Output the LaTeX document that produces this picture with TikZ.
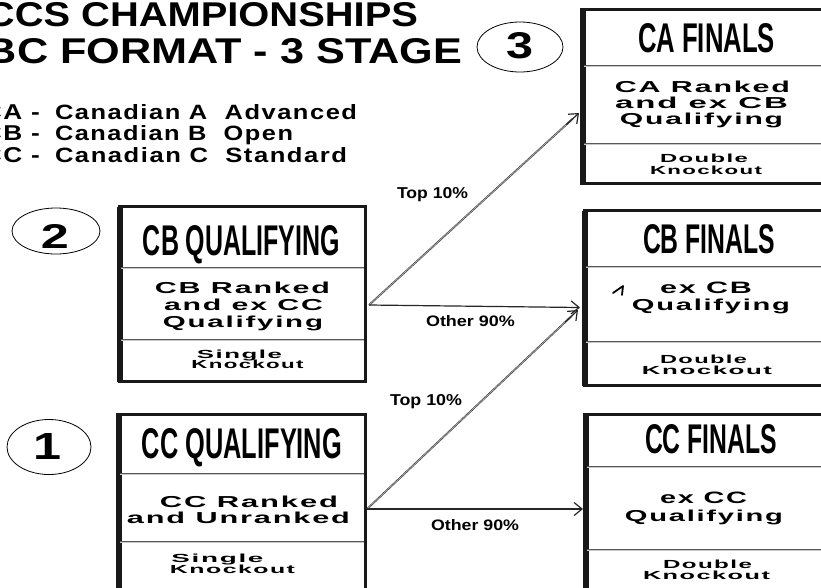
\documentclass[tikz,border=0pt]{standalone}
\usepackage{fontspec}
\setmainfont{Liberation Sans}
\newfontfamily\spc[LetterSpace=6]{Liberation Sans}
\usetikzlibrary{arrows.meta,shapes.geometric,calc}
\newcommand\rsz[3]{\resizebox{#1pt}{#2pt}{#3}}
\begin{document}
\begin{tikzpicture}[x=1pt,y=-1pt,
  box/.style={draw=black!90, line width=3.2pt, inner sep=0pt, outer sep=0pt},
  lbar/.style={draw=black!90, line width=6pt},
  divider/.style={draw=black!65, line width=0.7pt, double=black!22, double distance=0.8pt},
  t/.style={inner sep=0pt, outer sep=0pt, anchor=base},
  link/.style={draw=black!85, line width=1.1pt},
  dlink/.style={draw=black!75, line width=0.6pt, double=black!30, double distance=0.6pt},
  tipped/.style={draw=black!85, line width=1.2pt, -{Straight Barb[length=8pt,width=13pt]}},
  stage/.style={draw, ellipse, line width=0.8pt, inner sep=0pt},
]
\useasboundingbox (0,0) rectangle (821,587);
\begin{scope}
\clip (0,0) rectangle (821,587);
\fill[white] (0,0) rectangle (821,587);

% heading
\node[t, anchor=base east] (h1) at (418,26) {\rsz{432}{24}{\bfseries CCS CHAMPIONSHIPS}};
\node[t, anchor=base east] (h2) at (462,63) {\rsz{476}{25}{\bfseries BC FORMAT - 3 STAGE}};

% legend
\node[t, anchor=base east] (l1a) at (40,119) {\rsz{57}{15}{\spc\bfseries CA -}};
\node[t, anchor=base west] (l1b) at (55,119) {\rsz{302}{15}{\spc\bfseries Canadian A\ \ Advanced}};
\node[t, anchor=base east] (l2a) at (40,140.5) {\rsz{57}{15}{\spc\bfseries CB -}};
\node[t, anchor=base west] (l2b) at (55,140.5) {\rsz{238}{15}{\spc\bfseries Canadian B\ \ Open}};
\node[t, anchor=base east] (l3a) at (40,162) {\rsz{57}{15}{\spc\bfseries CC -}};
\node[t, anchor=base west] (l3b) at (55,162) {\rsz{292}{15}{\spc\bfseries Canadian C\ \ Standard}};

% stage ellipses
\node[stage, minimum width=86pt, minimum height=50pt] (e3) at (520,47) {};
\node[stage, minimum width=88pt, minimum height=46pt] (e2) at (56,231) {};
\node[stage, minimum width=84pt, minimum height=55pt] (e1) at (49,447) {};
\node[inner sep=0pt] (d3) at (519.5,46) {\rsz{27}{26}{\bfseries 3}};
\node[inner sep=0pt] (d2) at (55,236) {\rsz{28}{24}{\bfseries 2}};
\node[inner sep=0pt] (d1) at (47.5,446) {\rsz{28}{26}{\bfseries 1}};

% boxes
\node[box, minimum width=246pt, minimum height=175pt] (cbq) at (242.5,294) {};
\draw[lbar] ([xshift=0.5pt]cbq.north west) -- ([xshift=0.5pt]cbq.south west);
\node[box, minimum width=247.5pt, minimum height=185.5pt] (ccq) at (241.75,507.25) {};
\draw[lbar] ([xshift=0.5pt]ccq.north west) -- ([xshift=0.5pt]ccq.south west);
\node[box, minimum width=253pt, minimum height=174pt] (caf) at (708.5,96.5) {};
\draw[lbar] ([xshift=0.5pt]caf.north west) -- ([xshift=0.5pt]caf.south west);
\node[box, minimum width=250.5pt, minimum height=175pt] (cbf) at (709.75,298) {};
\draw[lbar] ([xshift=0.5pt]cbf.north west) -- ([xshift=0.5pt]cbf.south west);
\node[box, minimum width=250pt, minimum height=185.5pt] (ccf) at (710,507.25) {};
\draw[lbar] ([xshift=0.5pt]ccf.north west) -- ([xshift=0.5pt]ccf.south west);

% dividers
\draw[divider] (121,268) -- (364,268);
\draw[divider] (121,340) -- (364,340);
\draw[divider] (120,474) -- (364,474);
\draw[divider] (120,542) -- (364,542);
\draw[divider] (584,66) -- (821,66);
\draw[divider] (584,144) -- (821,144);
\draw[divider] (586,267) -- (821,267);
\draw[divider] (586,342) -- (821,342);
\draw[divider] (587,467) -- (821,467);
\draw[divider] (587,550) -- (821,550);

% box titles
\node[t] (tcaf) at (706.5,52) {\rsz{137}{29}{\bfseries CA FINALS}};
\node[t] (tcbf) at (709,253) {\rsz{132}{29}{\bfseries CB FINALS}};
\node[t] (tccf) at (711,453) {\rsz{132}{29}{\bfseries CC FINALS}};
\node[t] (tcbq) at (241.5,255) {\rsz{197}{30}{\bfseries CB QUALIFYING}};
\node[t] (tccq) at (242,458) {\rsz{200}{30}{\bfseries CC QUALIFYING}};

% CB qualifying text
\node[t] (b1) at (242.5,293.5) {\rsz{175}{11.5}{\spc\bfseries CB Ranked}};
\node[t] (b2) at (243.5,310.5) {\rsz{159}{11.5}{\spc\bfseries and ex CC}};
\node[t] (b3) at (243,327) {\rsz{160}{11.5}{\spc\bfseries Qualifying}};
\node[t] (b4) at (239.5,358) {\rsz{85}{8.5}{\spc\bfseries Single}};
\node[t] (b5) at (247.5,368.5) {\rsz{112}{8.5}{\spc\bfseries Knockout}};

% CC qualifying text
\node[t] (c1) at (249,507) {\rsz{178}{11.5}{\spc\bfseries CC Ranked}};
\node[t] (c2) at (238.5,523.5) {\rsz{223}{11.5}{\spc\bfseries and Unranked}};
\node[t] (c3) at (217.5,562) {\rsz{92}{8.5}{\spc\bfseries Single}};
\node[t] (c4) at (232.5,573.5) {\rsz{125}{8.5}{\spc\bfseries Knockout}};

% CA finals text
\node[t] (a1) at (702.5,92.5) {\rsz{175}{11.5}{\spc\bfseries CA Ranked}};
\node[t] (a2) at (701.5,108.5) {\rsz{173}{11.5}{\spc\bfseries and ex CB}};
\node[t] (a3) at (701.5,124.5) {\rsz{163}{11.5}{\spc\bfseries Qualifying}};
\node[t] (a4) at (704,162) {\rsz{88}{8.5}{\spc\bfseries Double}};
\node[t] (a5) at (706,174) {\rsz{112}{8.5}{\spc\bfseries Knockout}};

% CB finals text
\node[t] (f1) at (706,293.5) {\rsz{92}{11.5}{\spc\bfseries ex CB}};
\node[t] (f2) at (711,310.5) {\rsz{158}{11.5}{\spc\bfseries Qualifying}};
\node[t] (f3) at (703.5,363) {\rsz{87}{8.5}{\spc\bfseries Double}};
\node[t] (f4) at (707,374) {\rsz{130}{8.5}{\spc\bfseries Knockout}};
\draw[line width=1.8pt, line cap=round, line join=round] (613,293) -- (623,286) -- (622,295);

% CC finals text
\node[t] (g1) at (703.5,503.5) {\rsz{87}{11.5}{\spc\bfseries ex CC}};
\node[t] (g2) at (704,521.5) {\rsz{158}{11.5}{\spc\bfseries Qualifying}};
\node[t] (g3) at (707.5,568) {\rsz{89}{8.5}{\spc\bfseries Double}};
\node[t] (g4) at (706.5,579) {\rsz{127}{8.5}{\spc\bfseries Knockout}};

% connectors
\coordinate (cbqout) at (369,305);
\coordinate (cain) at (579,113);
\coordinate (cbin) at (580,307.5);
\coordinate (ccqout) at (367,509);
\coordinate (cbin2) at (578,310);
\coordinate (ccin) at (583,509);

\draw[dlink] (cbqout) -- ($(cbqout)!0.97!(cain)$);
\draw[tipped] ($(cbqout)!0.94!(cain)$) -- (cain);
\draw[tipped] (cbqout) -- (cbin);
\draw[dlink] (ccqout) -- ($(ccqout)!0.97!(cbin2)$);
\draw[tipped] ($(ccqout)!0.94!(cbin2)$) -- (cbin2);
\draw[tipped] (ccqout) -- (ccin);

% connector labels
\node[t] (p1) at (432.5,198) {\rsz{71}{11}{\bfseries Top 10\%}};
\node[t] (p2) at (470.5,326) {\rsz{89}{11}{\bfseries Other 90\%}};
\node[t] (p3) at (426,405) {\rsz{72}{11}{\bfseries Top 10\%}};
\node[t] (p4) at (475,530) {\rsz{88}{11}{\bfseries Other 90\%}};
\end{scope}
\end{tikzpicture}
\end{document}
